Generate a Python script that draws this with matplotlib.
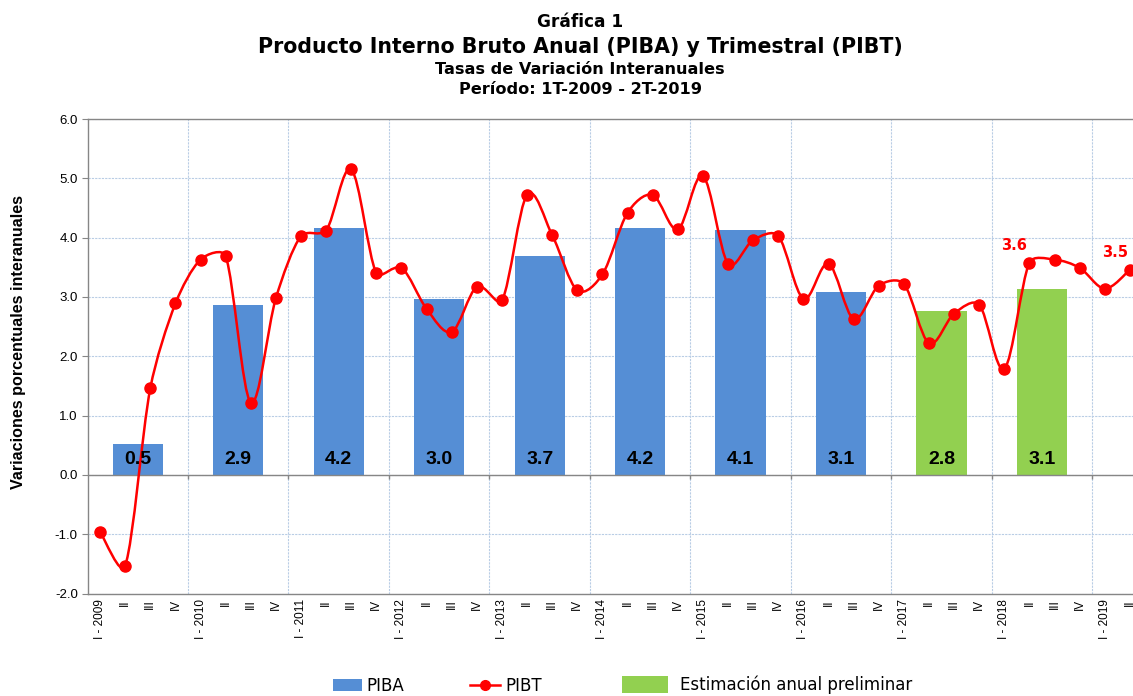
import numpy as np
import matplotlib
matplotlib.use("Agg")
import matplotlib.pyplot as plt
from matplotlib.path import Path
from matplotlib.patches import PathPatch, Patch
from matplotlib.lines import Line2D
from matplotlib import font_manager

# ---- data ----
years = list(range(2009, 2020))
quarter_names = ["I", "II", "III", "IV"]

# PIBT: quarterly year-on-year growth, 1T-2009 .. 2T-2019
pibt = [-0.96, -1.53, 1.46, 2.89,
        3.63, 3.69, 1.22, 2.98,
        4.03, 4.12, 5.15, 3.40,
        3.49, 2.80, 2.41, 3.17,
        2.94, 4.72, 4.04, 3.11,
        3.38, 4.42, 4.72, 4.14,
        5.04, 3.56, 3.96, 4.03,
        2.97, 3.56, 2.63, 3.19,
        3.22, 2.22, 2.72, 2.87,
        1.79, 3.58, 3.63, 3.49,
        3.14, 3.46]

# PIBA: annual growth
piba_years = list(range(2009, 2019))
piba = [0.52, 2.87, 4.16, 2.96, 3.69, 4.17, 4.13, 3.08, 2.76, 3.14]
piba_preliminar = [False] * 8 + [True, True]

# PIBT points with a value label
pibt_labeled = [37, 41]

# quarter tick labels
q_labels = []
for y in years:
    for q in quarter_names:
        q_labels.append(f"{q} - {y}" if q == "I" else q)
q_labels = q_labels[:len(pibt)]

# ---- styles ----
BLUE = "#558ED5"
GREEN = "#92D050"
RED = "#FF0000"
GRAY = "#868686"
GRID = "#B9CDE5"

installed = {f.name for f in font_manager.fontManager.ttflist}
NARROW = "Liberation Sans Narrow" if "Liberation Sans Narrow" in installed else "Liberation Sans"
ARIAL = "Liberation Sans"

W, H = 1133, 696
AX_W, AX_H = 1055, 474.5   # axes size in pixels
XMIN, XMAX, YMIN, YMAX = -0.5, len(pibt) - 0.5, -2, 6


def smooth_path(xs, ys):
    # Bezier smoothing like a spreadsheet "smoothed line" (done in pixel space,
    # control arms limited to a third of the segment)
    sx = AX_W / (XMAX - XMIN)
    sy = AX_H / (YMAX - YMIN)
    pts = np.column_stack([np.asarray(xs) * sx, np.asarray(ys) * sy]).astype(float)
    n = len(pts)
    verts = [pts[0]]
    codes = [Path.MOVETO]
    for i in range(n - 1):
        p0 = pts[i - 1] if i > 0 else pts[i]
        p1 = pts[i]
        p2 = pts[i + 1]
        p3 = pts[i + 2] if i + 2 < n else pts[i + 1]
        seg = np.hypot(*(p2 - p1))
        a1 = (p2 - p0) / 6
        a2 = (p3 - p1) / 6
        for a in (a1, a2):
            ln = np.hypot(*a)
            if ln > seg / 3:
                a *= (seg / 3) / ln
        verts += [p1 + a1, p2 - a2, p2]
        codes += [Path.CURVE4] * 3
    verts = np.array(verts) / [sx, sy]
    return Path(verts, codes)


fig = plt.figure(figsize=(11.33, 6.96), dpi=100)
ax = fig.add_axes([87.5 / W, 1 - 593.5 / H, AX_W / W, AX_H / H])

xq = np.arange(len(pibt))
ax.set_xlim(XMIN, XMAX)
ax.set_ylim(YMIN, YMAX)

# grid
boundaries = np.arange(3.5, len(pibt) - 0.5, 4)
ax.set_yticks(np.arange(-2, 6.01, 1))
ax.yaxis.set_major_formatter(matplotlib.ticker.FormatStrFormatter("%.1f"))
ax.grid(axis="y", color=GRID, linestyle=(0, (2, 1)), linewidth=0.8, zorder=0)
ax.vlines(boundaries, YMIN, YMAX, color=GRID, linestyle=(0, (2, 1)), linewidth=0.8, zorder=0)
ax.set_axisbelow(True)

# bars
xb = [(y - years[0]) * 4 + 1.5 for y in piba_years]
colors = [GREEN if p else BLUE for p in piba_preliminar]
ax.bar(xb, piba, width=2, color=colors, zorder=2)
for x, v in zip(xb, piba):
    ax.text(x, 0.26, f"{v:.1f}", ha="center", va="center", fontsize=14,
            fontweight="bold", family=NARROW, zorder=5)

# category axis at zero
ax.axhline(0, color=GRAY, linewidth=1, zorder=2.5)
ax.vlines(boundaries, -0.07, 0, color=GRAY, linewidth=1, zorder=2.5)

# quarterly line
ax.add_patch(PathPatch(smooth_path(xq, pibt), fill=False, edgecolor=RED,
                       linewidth=1.8, zorder=3))
ax.plot(xq, pibt, "o", color=RED, markersize=8, zorder=4, clip_on=False)
for i in pibt_labeled:
    ax.annotate(f"{pibt[i]:.1f}", (xq[i], pibt[i]), xytext=(-11, 12),
                textcoords="offset points", ha="center", va="center",
                color=RED, fontsize=10.5, fontweight="bold", zorder=5)

# axes look
for s in ["top", "left", "bottom"]:
    ax.spines[s].set_color(GRAY)
    ax.spines[s].set_linewidth(1)
ax.spines["right"].set_visible(False)
ax.set_xticks(xq)
ax.set_xticklabels(q_labels, rotation=90, fontsize=8.5, family=NARROW)
ax.tick_params(axis="x", length=0, pad=4)
ax.tick_params(axis="y", length=4, color=GRAY, labelsize=9.5, pad=3)
for lab in ax.get_yticklabels():
    lab.set_family(ARIAL)
ax.set_ylabel("Variaciones porcentuales interanuales", fontsize=11.6,
              fontweight="bold", family=ARIAL)
ax.yaxis.set_label_coords((26 - 87.5) / AX_W, 0.53)

# titles
fig.text(0.512, 1 - 22 / H, "Gráfica 1", ha="center", va="center",
         fontsize=12.2, fontweight="bold")
fig.text(0.512, 1 - 47 / H, "Producto Interno Bruto Anual (PIBA) y Trimestral (PIBT)",
         ha="center", va="center", fontsize=14.8, fontweight="bold")
fig.text(0.512, 1 - 70 / H, "Tasas de Variación Interanuales", ha="center",
         va="center", fontsize=11.6, fontweight="bold")
fig.text(0.512, 1 - 90 / H, "Período: 1T-2009 - 2T-2019", ha="center",
         va="center", fontsize=11.6, fontweight="bold")

# legend
leg_kw = dict(loc="center left", frameon=False, fontsize=12, borderpad=0,
              borderaxespad=0)
fig.legend(handles=[Patch(facecolor=BLUE)], labels=["PIBA"],
           bbox_to_anchor=(333 / W, 1 - 686 / H), handlelength=1.74,
           handleheight=0.7, handletextpad=0.25, **leg_kw)
fig.legend(handles=[Line2D([], [], color=RED, marker="o", markersize=7, linewidth=1.8)],
           labels=["PIBT"], bbox_to_anchor=(470 / W, 1 - 686 / H),
           handlelength=1.8, handletextpad=0.35, **leg_kw)
fig.legend(handles=[Patch(facecolor=GREEN)], labels=["Estimación anual preliminar"],
           bbox_to_anchor=(622 / W, 1 - 685 / H), handlelength=2.75,
           handleheight=1.15, handletextpad=0.7, **leg_kw)

fig.savefig("out.png", dpi=100)
